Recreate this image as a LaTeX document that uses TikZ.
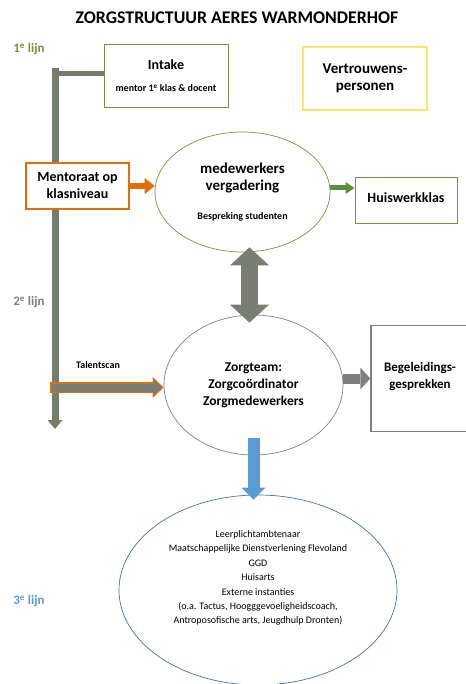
\documentclass[tikz,border=0pt]{standalone}
\usepackage{fontspec}
\setmainfont{Carlito}
\usetikzlibrary{arrows.meta,shapes.geometric}
\definecolor{lijngroen}{HTML}{77933C}
\definecolor{lijngrijs}{HTML}{7F7F7F}
\definecolor{lijnblauw}{HTML}{5B9BD5}
\definecolor{balkkleur}{HTML}{737D69}
\definecolor{oranje}{HTML}{E46C0A}
\definecolor{geel}{HTML}{FFE36E}
\definecolor{pijlgroen}{HTML}{5B8F3A}
\definecolor{randblauw}{HTML}{41719C}
\definecolor{blokgrijs}{HTML}{787F72}

\begin{document}
\begin{tikzpicture}[x=1pt,y=-1pt,
		kop/.style={font=\bfseries\fontsize{#1}{17}\selectfont,align=center},
		blok/.style={rectangle,draw,fill=white,line width=1pt},
		ovaal/.style={ellipse,draw,line width=0.7pt,inner sep=0pt},
		lijn/.style={font=\bfseries\fontsize{13}{15}\selectfont},
		klein/.style={font=\bfseries\fontsize{10}{12}\selectfont}]
	\useasboundingbox (0,0) rectangle (465,684);
	\node[font=\bfseries\fontsize{17.8}{21}\selectfont] (titel) at (237,18) {ZORGSTRUCTUUR AERES WARMONDERHOF};
	% lijnen links
	\node[lijn,text=lijngroen] (lijn1) at (29,49) {1\textsuperscript{e} lijn};
	\node[lijn,text=lijngrijs] (lijn2) at (29,302) {2\textsuperscript{e} lijn};
	\node[lijn,text=lijnblauw] (lijn3) at (29,601) {3\textsuperscript{e} lijn};
	% grijze balk
	\coordinate (balktop) at (55,68);
	\coordinate (balkbocht) at (55,73.5);
	\coordinate (balkeind) at (55,429);
	\draw[balkkleur,line width=7pt,-{Triangle[length=9pt,width=15pt,line width=0pt]}] (balktop) -- (balkeind);
	
	\node[blok,kop=14,draw=lijngroen!70!gray,minimum width=124,minimum height=63] (intake) at (166,76)
		{Intake\\[5pt]{\fontsize{10}{12}\selectfont mentor 1\textsuperscript{e} klas \& docent}};
	\draw[balkkleur,line width=5pt] (balkbocht) -- (balkbocht -| intake.west);
	\node[blok,kop=15,draw=geel,line width=1.5pt,minimum width=124,minimum height=63] (vertrouwen) at (365,78.5)
		{Vertrouwens-\\personen};
	\node[blok,kop=14,draw=oranje,line width=1.5pt,minimum width=103,minimum height=46] (mentoraat) at (77.5,186)
		{Mentoraat op\\klasniveau};
	\node[ovaal,kop=15,draw=lijngroen,minimum width=175,minimum height=120] (verg) at (242.5,192)
		{medewerkers\\vergadering\\[12pt]{\fontsize{10}{12}\selectfont Bespreking studenten}};
	\node[blok,kop=14,draw=lijngroen,minimum width=102,minimum height=46] (huiswerk) at (406,201) {\raisebox{6pt}{Huiswerkklas}};
	\node[ovaal,kop=13.5,draw=gray,minimum width=179,minimum height=140] (zorg) at (253.5,385)
		{Zorgteam:\\Zorgcoördinator\\Zorgmedewerkers};
	\node[blok,kop=13,draw=lijngrijs,line width=1.5pt,minimum width=98,minimum height=106] (begel) at (420,378.5)
		{Begeleidings-\\gesprekken\\[-10pt]};
	\node[klein] (talent) at (98,365) {Talentscan};
	\node[ellipse,draw=randblauw,line width=0.7pt,minimum width=278,minimum height=190] (extern) at (258,590) {};
	\node[align=center,font=\fontsize{10}{14.4}\selectfont] (externtekst) at (258,578)
		{Leerplichtambtenaar\\Maatschappelijke Dienstverlening Flevoland\\GGD\\Huisarts\\Externe instanties\\
		(o.a. Tactus, Hoogggevoeligheidscoach,\\Antroposofische arts, Jeugdhulp Dronten)};
	
	% pijlen
	\draw[oranje,line width=6pt,-{Triangle[length=10pt,width=16pt,line width=0pt]}] (mentoraat.east) -- (mentoraat.east -| verg.west);
	\coordinate (groenstart) at ([yshift=4pt]verg.east);
	\draw[pijlgroen,line width=5pt,-{Triangle[length=9pt,width=12pt,line width=0pt]}] (groenstart) -- (groenstart -| huiswerk.west);
	\draw[blokgrijs,line width=17pt,{Triangle[length=18pt,width=39pt,line width=0pt]}-{Triangle[length=18pt,width=39pt,line width=0pt]}]
		([xshift=7pt,yshift=5pt]verg.south) -- ([xshift=-4pt,yshift=-8pt]zorg.north);
	\coordinate (talentstart) at (50,387.5);
	\draw[oranje,line width=11pt,-{Triangle[length=11pt,width=21pt,line width=0pt]}] (talentstart) -- (talentstart -| zorg.west);
	\draw[blokgrijs,line width=8pt,shorten <=1.5pt,shorten >=1.8pt,-{Triangle[length=8pt,width=16pt,line width=0pt]}] (talentstart) -- (talentstart -| zorg.west);
	\draw[lijngrijs,line width=10pt,-{Triangle[length=10pt,width=22pt,line width=0pt]}] (zorg.east |- begel.west) -- (begel.west);
	\draw[lijnblauw,line width=12pt,-{Triangle[length=12pt,width=24pt,line width=0pt]}] ([yshift=17pt]zorg.south) -- ([yshift=-5pt]zorg.south |- extern.north);
\end{tikzpicture}
\end{document}
